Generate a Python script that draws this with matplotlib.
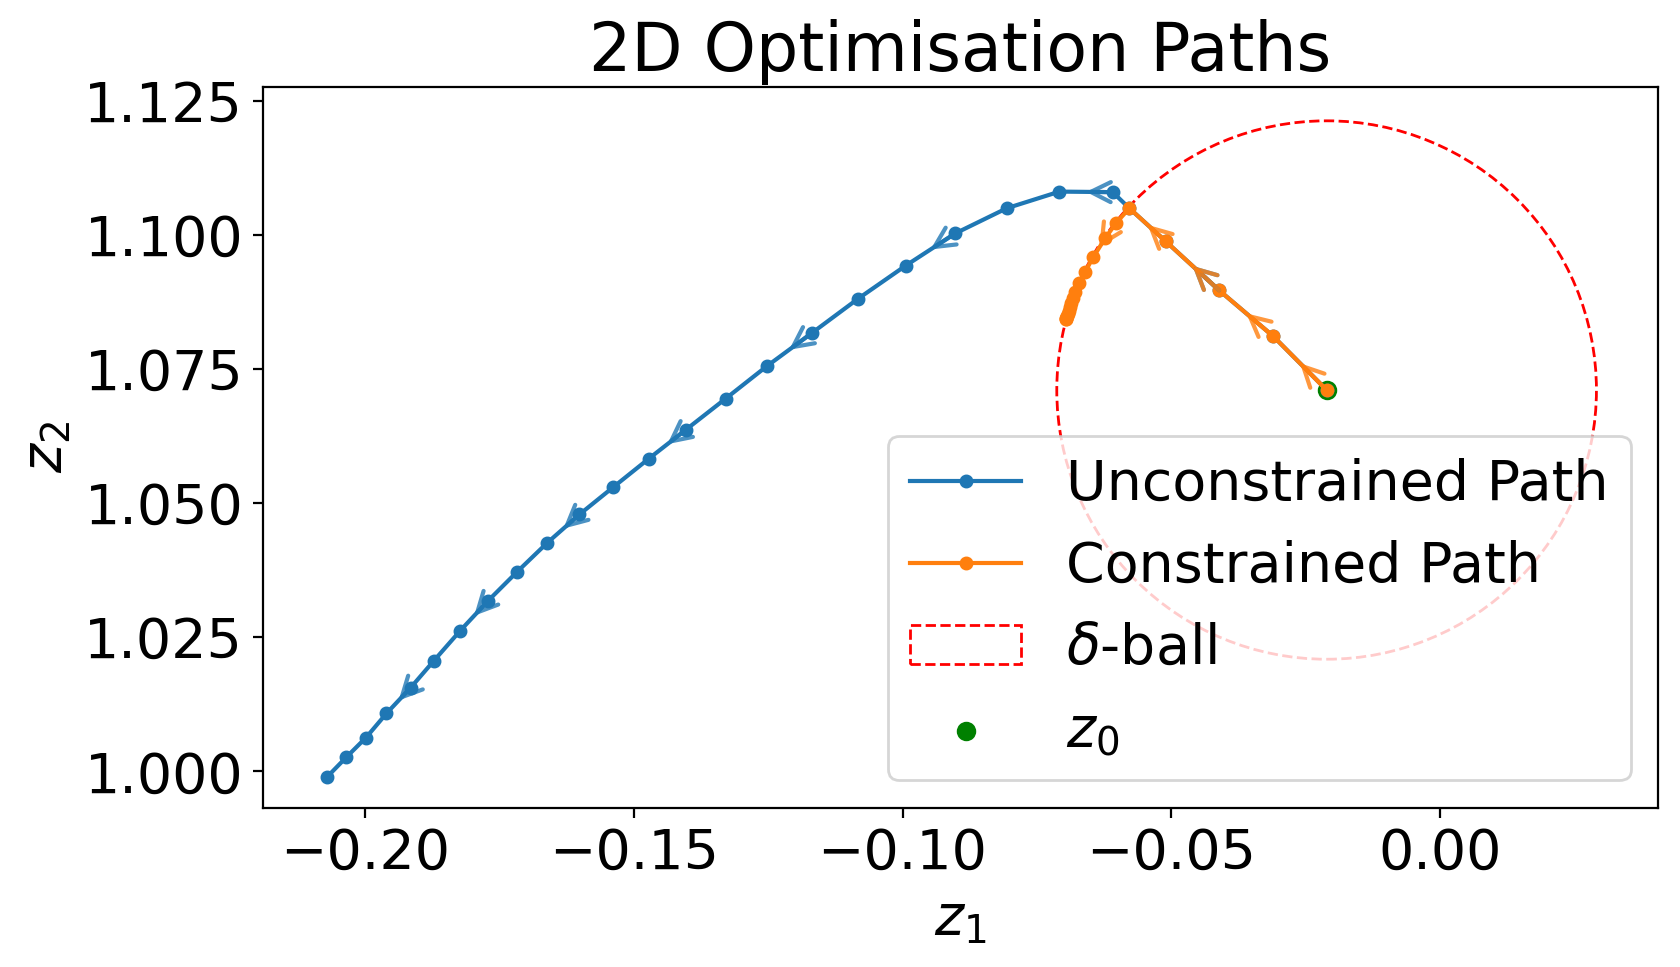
import matplotlib
matplotlib.use("Agg")
import matplotlib.pyplot as plt
from matplotlib.patches import Circle

plt.rcParams['font.family'] = ['DejaVu Sans']
plt.rcParams['font.size'] = 20

# starting point and radius of the delta-ball
z0 = (-0.0211, 1.0711)
delta = 0.0502

# unconstrained gradient path
unc_z1 = [-0.0211, -0.0310, -0.0411, -0.0510, -0.0578, -0.0609, -0.0708, -0.0806, -0.0902, -0.0994,
          -0.1083, -0.1169, -0.1253, -0.1329, -0.1403, -0.1472, -0.1538, -0.1601, -0.1661, -0.1717,
          -0.1771, -0.1823, -0.1872, -0.1915, -0.1960, -0.1998, -0.2035, -0.2070]
unc_z2 = [1.0711, 1.0811, 1.0897, 1.0988, 1.1050, 1.1080, 1.1081, 1.1050, 1.1003, 1.0943,
          1.0881, 1.0817, 1.0755, 1.0695, 1.0637, 1.0583, 1.0530, 1.0479, 1.0426, 1.0372,
          1.0318, 1.0262, 1.0206, 1.0156, 1.0108, 1.0063, 1.0026, 0.9990]

# projected (constrained) path
con_z1 = [-0.0211, -0.0310, -0.0411, -0.0510, -0.0578, -0.0603, -0.0623, -0.0645, -0.0660, -0.0671,
          -0.0679, -0.0683, -0.0686, -0.0689, -0.0691, -0.0692, -0.0694, -0.0695, -0.0695, -0.0695]
con_z2 = [1.0711, 1.0811, 1.0897, 1.0988, 1.1050, 1.1022, 1.0994, 1.0959, 1.0932, 1.0910,
          1.0894, 1.0883, 1.0873, 1.0865, 1.0858, 1.0853, 1.0849, 1.0846, 1.0844, 1.0843]

# segments that carry a direction arrow
unc_arrows = [2, 5, 8, 11, 14, 17, 20, 23]
con_arrows = [0, 1, 2, 3, 6]


def add_arrows(ax, xs, ys, idx, color):
    for i in idx:
        mid = ((xs[i] + xs[i + 1]) / 2, (ys[i] + ys[i + 1]) / 2)
        ax.annotate('', xy=mid, xytext=(xs[i], ys[i]),
                    arrowprops=dict(arrowstyle='->', color=color, lw=1.5, alpha=0.8,
                                    mutation_scale=18, shrinkA=0, shrinkB=0))


fig = plt.figure(figsize=(1681 / 200, 967 / 200), dpi=200)
ax = fig.add_axes([0.15628, 0.16494, 0.83022, 0.74478])

ax.plot(unc_z1, unc_z2, marker='o', markersize=4, color='#1f77b4', lw=1.5, label='Unconstrained Path')
add_arrows(ax, unc_z1, unc_z2, unc_arrows, '#1f77b4')
ax.plot(con_z1, con_z2, marker='o', markersize=4, color='#ff7f0e', lw=1.5, label='Constrained Path')
add_arrows(ax, con_z1, con_z2, con_arrows, '#ff7f0e')

ball = Circle(z0, delta, fill=False, edgecolor='red', linestyle='--', lw=1, label=r'$\delta$-ball')
ax.add_patch(ball)
ax.scatter([z0[0]], [z0[1]], color='green', label='$z_0$')

ax.set_xlim(-0.21903, 0.04061)
ax.set_ylim(0.99325, 1.12755)
ax.set_xticks([-0.20, -0.15, -0.10, -0.05, 0.00])
ax.set_yticks([1.000, 1.025, 1.050, 1.075, 1.100, 1.125])
ax.set_xlabel('$z_1$')
ax.set_ylabel('$z_2$')
ax.set_title('2D Optimisation Paths', fontsize=24)
ax.legend(loc='lower right')

fig.savefig('out.png', dpi=200)
